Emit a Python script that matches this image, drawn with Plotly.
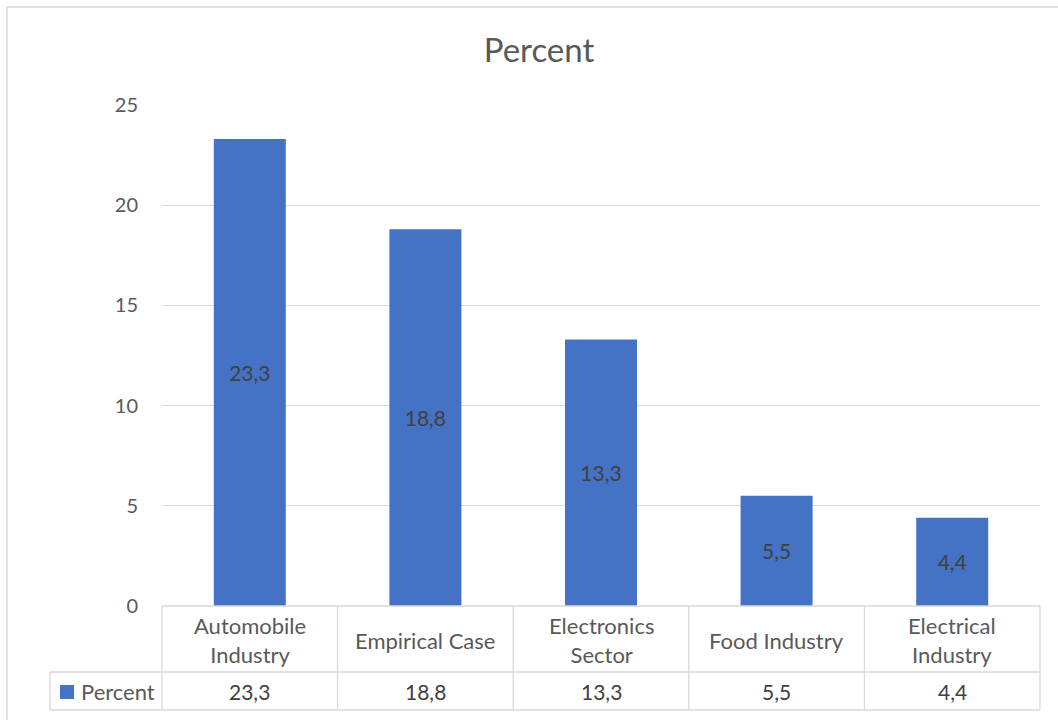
import plotly.graph_objects as go

categories = ["Automobile<br>Industry", "Empirical Case", "Electronics<br>Sector", "Food Industry", "Electrical<br>Industry"]
values = [23.3, 18.8, 13.3, 5.5, 4.4]
series_name = "Percent"
y_ticks = [0, 5, 10, 15, 20, 25]

BAR = "#4472C4"
GRID = "#D9D9D9"
TXT = "#595959"
FONT = "Lato"

W, H = 1058, 720
L, R, T, B = 162, 18, 105, 114
pw, ph = W - L - R, H - T - B

def px_x(x):
    return (x - L) / pw

def px_y(y):
    return (H - B - y) / ph

fig = go.Figure()
fig.add_trace(go.Bar(
    x=list(range(len(categories))), y=values, name=series_name,
    marker=dict(color=BAR, line=dict(width=0)),
    width=0.41,
    texttemplate="%{y:.1f}", textposition="inside", insidetextanchor="middle",
    textfont=dict(family=FONT, size=21, color="#404040"),
    textangle=0, showlegend=False, hoverinfo="skip",
))

shapes = []
line = dict(color=GRID, width=1.3)
y_head_bot = px_y(672)
y_tab_bot = px_y(710)
shapes.append(dict(type="line", xref="paper", yref="paper", x0=0, x1=1, y0=0, y1=0, line=line))
shapes.append(dict(type="line", xref="paper", yref="paper", x0=px_x(50), x1=1, y0=y_head_bot, y1=y_head_bot, line=line))
shapes.append(dict(type="line", xref="paper", yref="paper", x0=px_x(50), x1=1, y0=y_tab_bot, y1=y_tab_bot, line=line))
n = len(categories)
for k in range(n + 1):
    xp = k / n
    shapes.append(dict(type="line", xref="paper", yref="paper", x0=xp, x1=xp, y0=0, y1=y_tab_bot, line=line))
shapes.append(dict(type="line", xref="paper", yref="paper", x0=px_x(50), x1=px_x(50), y0=y_head_bot, y1=y_tab_bot, line=line))
shapes.append(dict(type="rect", xref="paper", yref="paper", x0=px_x(60), x1=px_x(74), y0=px_y(699), y1=px_y(685),
                   fillcolor=BAR, line=dict(width=0)))
shapes.append(dict(type="rect", xref="paper", yref="paper", x0=px_x(7), x1=px_x(1070), y0=px_y(730), y1=px_y(7),
                   line=dict(color=GRID, width=1.5), fillcolor="rgba(0,0,0,0)", layer="below"))

annotations = []
for i, c in enumerate(categories):
    annotations.append(dict(x=i, xref="x", y=px_y(640), yref="paper", text=c, showarrow=False,
                            font=dict(family=FONT, size=22, color=TXT), xanchor="center", yanchor="middle"))
    annotations.append(dict(x=i, xref="x", y=px_y(691), yref="paper", text=f"{values[i]:.1f}".replace(".", ","),
                            showarrow=False, font=dict(family=FONT, size=21, color="#404040"),
                            xanchor="center", yanchor="middle"))
annotations.append(dict(x=px_x(79), xref="paper", y=px_y(691), yref="paper", text=series_name, showarrow=False,
                        font=dict(family=FONT, size=22, color=TXT), xanchor="left", yanchor="middle"))

fig.update_layout(
    width=W, height=H, autosize=False,
    margin=dict(l=L, r=R, t=T, b=B),
    paper_bgcolor="white", plot_bgcolor="white",
    separators=",.",
    title=dict(text="Percent", xref="container", x=539 / W, xanchor="center",
               yref="container", y=1 - 50 / H, yanchor="middle",
               font=dict(family=FONT, size=33, color=TXT)),
    xaxis=dict(range=[-0.5, n - 0.5], showticklabels=False, showgrid=False, zeroline=False, showline=False, ticks=""),
    yaxis=dict(range=[0, 25], tickvals=y_ticks, showgrid=True, gridcolor=GRID, gridwidth=1.3,
               zeroline=False, showline=False, ticks="", ticklabelstandoff=23,
               tickfont=dict(family=FONT, size=20, color=TXT)),
    shapes=shapes, annotations=annotations, bargap=0.59,
)

fig.write_html("out.html")
